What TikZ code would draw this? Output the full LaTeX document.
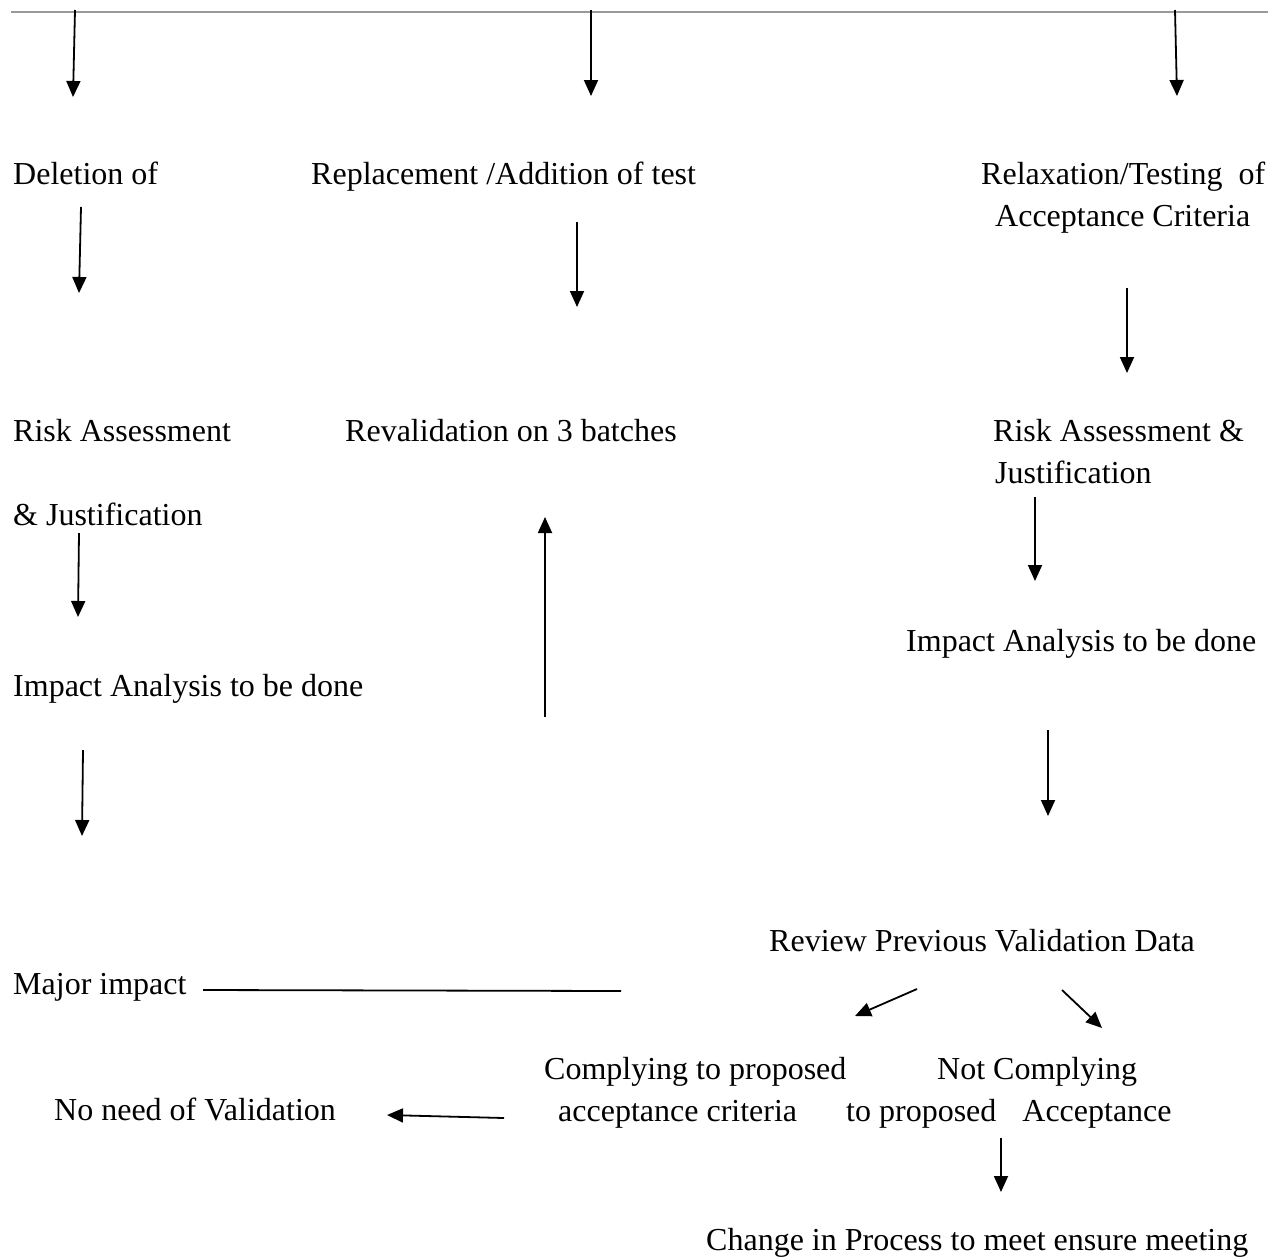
\documentclass[tikz,border=0pt]{standalone}
\usepackage{fontspec}
\setmainfont{Liberation Serif}
\usetikzlibrary{arrows.meta}
\tikzset{
  lbl/.style={anchor=base west, inner sep=0pt, font=\fontsize{32}{40}\selectfont},
  arr/.style={line width=1.8pt, -{Triangle[length=16pt,width=14pt]}},
  plain/.style={line width=1.8pt},
  topline/.style={line width=2pt, draw=black!40}
}
\begin{document}
\begin{tikzpicture}[x=1pt,y=-1pt]
\useasboundingbox[fill=white] (0,0) rectangle (1276,1256);
% texts
\node[lbl] (del)   at (13,184)  {Deletion of};
\node[lbl] (rep)   at (311,184) {Replacement /Addition of test};
\node[lbl] (rel1)  at (981,184) {Relaxation/Testing\hspace{8pt} of};
\node[lbl] (rel2)  at (995,226) {Acceptance Criteria};
\node[lbl] (ra1)   at (13,441)  {Risk Assessment};
\node[lbl] (reval) at (345,441) {Revalidation on 3 batches};
\node[lbl] (ra2)   at (993,441) {Risk Assessment \&};
\node[lbl] (just2) at (995,483) {Justification};
\node[lbl] (just1) at (13,525)  {\& Justification};
\node[lbl] (imp2)  at (906,651) {Impact Analysis to be done};
\node[lbl] (imp1)  at (13,696)  {Impact Analysis to be done};
\node[lbl] (rev)   at (769,951) {Review Previous Validation Data};
\node[lbl] (major) at (13,994)  {Major impact};
\node[lbl] (comp1) at (544,1079) {Complying to proposed};
\node[lbl] (comp2) at (558,1121) {acceptance criteria};
\node[lbl] (nc1)   at (937,1079) {Not Complying};
\node[lbl] (nc2)   at (846,1121) {to proposed\hspace{18pt} Acceptance};
\node[lbl] (nov)   at (54,1120)  {No need of Validation};
\node[lbl] (chg)   at (706,1250) {Change in Process to meet ensure meeting};
% coordinates
\coordinate (tl) at (11,12);   \coordinate (tr) at (1268,12);
\coordinate (a1s) at (75,10);   \coordinate (a1e) at (73,97);
\coordinate (a2s) at (591,10);  \coordinate (a2e) at (591,96);
\coordinate (a3s) at (1175,10); \coordinate (a3e) at (1177,96);
\coordinate (a4s) at (81,207);  \coordinate (a4e) at (79,293);
\coordinate (a5s) at (577,222); \coordinate (a5e) at (577,307);
\coordinate (a6s) at (1127,288);\coordinate (a6e) at (1127,373);
\coordinate (a7s) at (79,533);  \coordinate (a7e) at (78,617);
\coordinate (a8s) at (545,717); \coordinate (a8e) at (545,517);
\coordinate (a9s) at (1035,497);\coordinate (a9e) at (1035,581);
\coordinate (a10s) at (83,750); \coordinate (a10e) at (82,836);
\coordinate (a11s) at (1048,730);\coordinate (a11e) at (1048,816);
\coordinate (a12s) at (917,989);\coordinate (a12e) at (855,1016);
\coordinate (a13s) at (1062,990);\coordinate (a13e) at (1102,1028);
\coordinate (a14s) at (504,1118);\coordinate (a14e) at (387,1115);
\coordinate (a15s) at (1001,1138);\coordinate (a15e) at (1001,1192);
\coordinate (ls) at (203,990);  \coordinate (le) at (621,991);
% connectors
\draw[topline] (tl) -- (tr);
\foreach \i in {1,...,15} { \draw[arr] (a\i s) -- (a\i e); }
\draw[plain] (ls) -- (le);
\end{tikzpicture}
\end{document}
